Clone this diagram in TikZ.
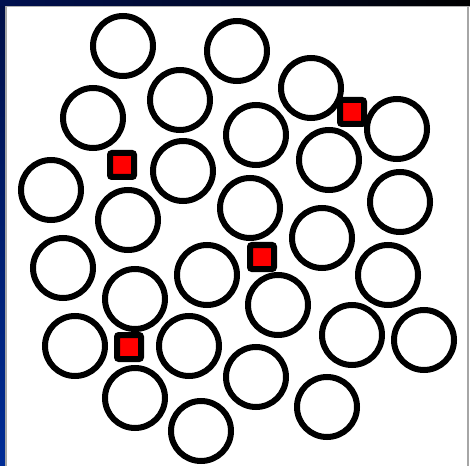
\documentclass[tikz,border=0pt]{standalone}
\begin{document}
\begin{tikzpicture}[x=0.75pt,y=-0.75pt,
  ring/.style={draw=black,line width=4.5pt},
  marker/.style={draw=black,fill=red,line width=4.5pt,rounded corners=1.5pt}]
\useasboundingbox (0,0) rectangle (470,466);
\fill[white] (0,0) rectangle (470,466);
% frame
\shade[top color={rgb,255:red,0;green,14;blue,70},bottom color={rgb,255:red,0;green,44;blue,150}] (0,0) rectangle (6,466);
\shade[left color={rgb,255:red,0;green,16;blue,80},right color=black] (0,0) rectangle (470,6);
\fill[gray!70] (5,6) rectangle (7,466);
\fill[gray!60] (6,6) rectangle (470,7.5);
\fill[gray!70] (467,7) rectangle (468.5,466);
% circles
\foreach \i/\x/\y in {1/123/46,2/237/51,3/311/88,4/93/118,5/180/100,6/256/135,7/397/129,8/329/160,9/183/171,10/51/190,11/128/220,12/250/208,13/400/202,14/322/238,15/63/268,16/207/275,17/388/275,18/135/299,19/278/305,20/75/346,21/189/346,22/352/335,23/424/340,24/135/398,25/256/377,26/327/407,27/201/431}
  \node[ring,circle,minimum size=45pt,inner sep=0pt] (c\i) at (\x,\y) {};
% red markers
\foreach \i/\x/\y in {1/352/112,2/122/165,3/262/257,4/129/347}
  \node[marker,rectangle,minimum size=18pt,inner sep=0pt] (m\i) at (\x,\y) {};
\end{tikzpicture}
\end{document}
